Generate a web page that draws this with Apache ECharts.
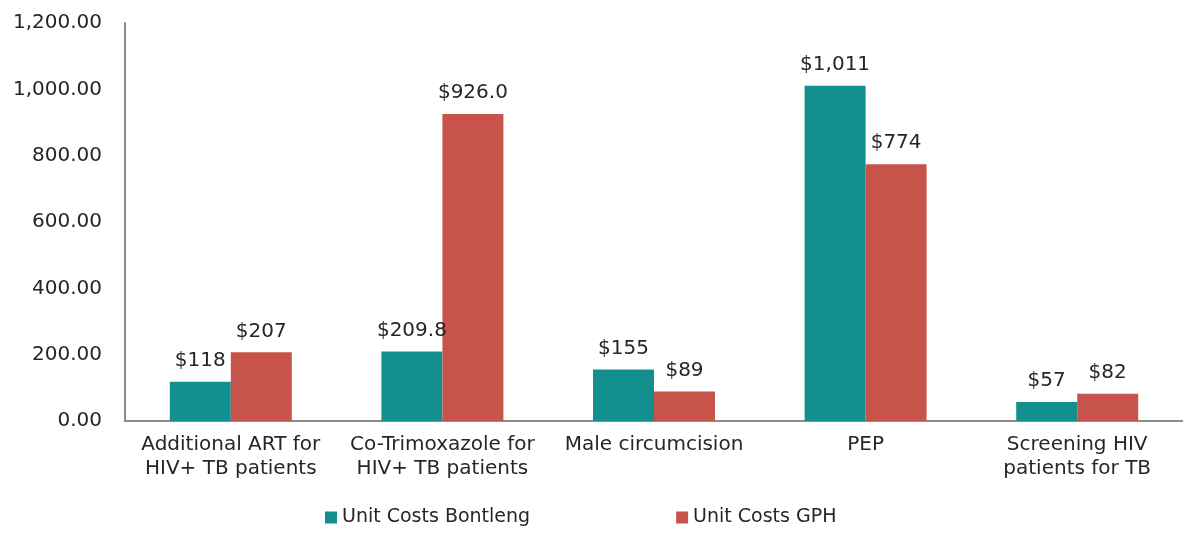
<!DOCTYPE html>
<html>
<head>
<meta charset="utf-8">
<script src="https://cdn.jsdelivr.net/npm/echarts@6/dist/echarts.min.js"></script>
<style>
  html, body { margin: 0; padding: 0; background: #fff; }
  #chart { width: 1183px; height: 536px; }
</style>
</head>
<body>
<div id="chart"></div>
<script>
  var categories = [
    'Additional ART for\nHIV+ TB patients',
    'Co-Trimoxazole for\nHIV+ TB patients',
    'Male circumcision',
    'PEP',
    'Screening HIV\npatients for TB'
  ]
  var bontleng = [118, 209.8, 155, 1011, 57]
  var gph = [207, 926, 89, 774, 82]
  var bontlengLabels = ['$118', '$209.8', '$155', '$1,011', '$57']
  var gphLabels = ['$207', '$926.0', '$89', '$774', '$82']
  var yTicks = [0, 200, 400, 600, 800, 1000, 1200]

  var font = 'DejaVu Sans'
  var textColor = '#262626'

  function fmtTick (v) {
    return v.toLocaleString('en-US', {minimumFractionDigits: 2, maximumFractionDigits: 2})
  }

  var chart = echarts.init(document.getElementById('chart'))
  var option = {
    animation: false,
    textStyle: { fontFamily: font },
    grid: { left: 125, right: -9, top: 23, bottom: 115 },
    legend: {
      bottom: 4,
      left: 320,
      itemWidth: 12,
      itemHeight: 12,
      itemGap: 146,
      icon: 'rect',
      textStyle: { fontFamily: font, fontSize: 19, color: textColor },
      data: ['Unit Costs Bontleng', 'Unit Costs GPH']
    },
    xAxis: {
      type: 'category',
      data: categories,
      axisTick: { show: false },
      axisLine: { lineStyle: { color: '#8c8c8c', width: 2 } },
      axisLabel: {
        interval: 0,
        margin: 12,
        fontSize: 20,
        lineHeight: 24,
        color: textColor,
        fontFamily: font
      }
    },
    yAxis: {
      type: 'value',
      min: yTicks[0],
      max: yTicks[yTicks.length - 1],
      interval: 200,
      splitLine: { show: false },
      axisLine: { show: true, lineStyle: { color: '#8c8c8c', width: 2 } },
      axisLabel: {
        margin: 23,
        fontSize: 20,
        color: textColor,
        fontFamily: font,
        formatter: fmtTick
      }
    },
    series: [
      {
        name: 'Unit Costs Bontleng',
        type: 'bar',
        barWidth: 61,
        barGap: '0%',
        itemStyle: { color: '#148F8F' },
        label: {
          show: true,
          position: 'top',
          distance: 11,
          fontSize: 20,
          color: textColor,
          fontFamily: font,
          formatter: function (p) { return bontlengLabels[p.dataIndex] }
        },
        data: bontleng
      },
      {
        name: 'Unit Costs GPH',
        type: 'bar',
        barWidth: 61,
        barGap: '0%',
        itemStyle: { color: '#C8534A' },
        label: {
          show: true,
          position: 'top',
          distance: 11,
          fontSize: 20,
          color: textColor,
          fontFamily: font,
          formatter: function (p) { return gphLabels[p.dataIndex] }
        },
        data: gph
      }
    ]
  }
  chart.setOption(option)
</script>
</body>
</html>
